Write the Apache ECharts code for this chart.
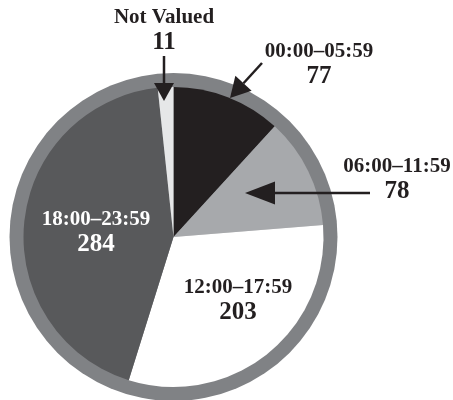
<!DOCTYPE html>
<html>
<head>
<meta charset="utf-8">
<script src="https://cdn.jsdelivr.net/npm/echarts@6/dist/echarts.min.js"></script>
<style>html,body{margin:0;padding:0;background:#fff}#c{width:453px;height:400px}</style>
</head>
<body>
<div id="c"></div>
<script>
const categories = ['00:00–05:59', '06:00–11:59', '12:00–17:59', '18:00–23:59', 'Not Valued'];
const counts = [77, 78, 203, 284, 11];
const sliceColors = ['#231f20', '#a7a9ac', '#ffffff', '#58595b', '#e6e7e8'];
const labelColors = ['#231f20', '#231f20', '#231f20', '#ffffff', '#231f20'];
// label anchor positions (annotation placement)
const labelPos = [[319, 65], [397, 180], [238, 301], [96, 233], [164, 31]];

const chart = echarts.init(document.getElementById('c'), null, {renderer: 'canvas'});
const font = '"Liberation Serif", "Times New Roman", serif';
const data = categories.map((n, i) => ({
  name: n, value: counts[i],
  itemStyle: {color: sliceColors[i]},
  label: {rich: {
    n: {fontFamily: font, fontWeight: 'bold', fontSize: 21, color: labelColors[i], lineHeight: 24, align: 'center'},
    v: {fontFamily: font, fontWeight: 'bold', fontSize: 25, color: labelColors[i], lineHeight: 26, align: 'center'}
  }}
}));

function arrow(x1, y1, x2, y2, headLen, headW) {
  const dx = x2 - x1, dy = y2 - y1, L = Math.hypot(dx, dy);
  const ux = dx / L, uy = dy / L, px = -uy, py = ux;
  const bx = x2 - ux * headLen, by = y2 - uy * headLen;
  return [
    {type: 'line', shape: {x1: x1, y1: y1, x2: bx, y2: by}, style: {stroke: '#231f20', lineWidth: 2.5}, z: 100},
    {type: 'polygon', shape: {points: [[x2, y2], [bx + px * headW / 2, by + py * headW / 2], [bx - px * headW / 2, by - py * headW / 2]]}, style: {fill: '#231f20'}, z: 100}
  ];
}

chart.setOption({
  animation: false,
  series: [
    {
      type: 'pie', silent: true, center: [173.5, 237], radius: [0, 164],
      label: {show: false}, labelLine: {show: false},
      data: [{value: 1, itemStyle: {color: '#808285'}}], z: 1
    },
    {
      type: 'pie', center: [173.5, 237], radius: [0, 150],
      startAngle: 90, clockwise: true, minAngle: 0, avoidLabelOverlap: false,
      label: {show: true, position: 'outside', formatter: '{n|{b}}\n{v|{c}}'},
      labelLine: {show: false},
      labelLayout: function (p) {
        const q = labelPos[p.dataIndex];
        return {x: q[0], y: q[1], align: 'center', verticalAlign: 'middle', hideOverlap: false, moveOverlap: null};
      },
      emphasis: {disabled: true},
      data: data, z: 2
    }
  ],
  graphic: [].concat(
    arrow(164, 56, 164, 101, 18, 20),
    arrow(262, 63, 230, 98, 20, 22),
    arrow(370, 193, 245, 193, 30, 23)
  )
});
</script>
</body>
</html>
